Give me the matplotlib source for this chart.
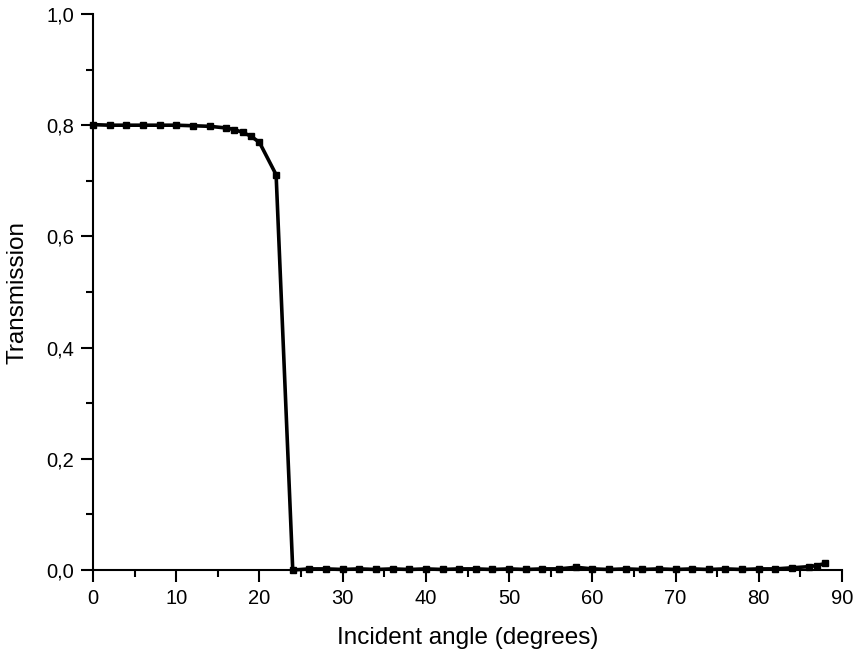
import matplotlib.pyplot as plt
from matplotlib.ticker import MultipleLocator, FuncFormatter

plt.rcParams['font.family'] = ['Liberation Sans', 'DejaVu Sans']

# transmission vs incident angle
angle = [0, 2, 4, 6, 8, 10, 12, 14, 16, 17, 18, 19, 20, 22, 24,
         26, 28, 30, 32, 34, 36, 38, 40, 42, 44, 46, 48, 50, 52, 54, 56,
         58, 60, 62, 64, 66, 68, 70, 72, 74, 76, 78, 80, 82, 84, 86, 87, 88]
trans = [0.801, 0.800, 0.800, 0.800, 0.800, 0.800, 0.799, 0.798, 0.795, 0.792, 0.787, 0.780, 0.769, 0.711, 0.0,
         0.002, 0.002, 0.001, 0.002, 0.001, 0.002, 0.001, 0.002, 0.001, 0.002, 0.002, 0.001, 0.002, 0.001, 0.002, 0.002,
         0.005, 0.002, 0.001, 0.002, 0.001, 0.002, 0.001, 0.002, 0.001, 0.002, 0.001, 0.002, 0.002, 0.004, 0.006, 0.008, 0.012]

fig = plt.figure(figsize=(8.55, 6.57), dpi=100)
ax = fig.add_axes([0.1088, 0.1324, 0.8760, 0.8463])

ax.plot(angle, trans, color='black', linewidth=2.6, marker='s', markersize=4.3,
        clip_on=False)

ax.set_xlim(0, 90)
ax.set_ylim(0, 1.0)
ax.xaxis.set_major_locator(MultipleLocator(10))
ax.xaxis.set_minor_locator(MultipleLocator(5))
ax.yaxis.set_major_locator(MultipleLocator(0.2))
ax.yaxis.set_minor_locator(MultipleLocator(0.1))
ax.yaxis.set_major_formatter(FuncFormatter(lambda v, p: '{:.1f}'.format(v).replace('.', ',')))

for side in ['top', 'right']:
    ax.spines[side].set_visible(False)
for side in ['left', 'bottom']:
    ax.spines[side].set_linewidth(1.5)

ax.tick_params(which='major', direction='out', length=8.5, width=1.5, labelsize=14.5, pad=5)
ax.tick_params(which='minor', direction='out', length=4.8, width=1.5)

ax.set_xlabel('Incident angle (degrees)', fontsize=17.5, labelpad=14)
ax.set_ylabel('Transmission', fontsize=17.5, labelpad=13)

fig.savefig('out.png', dpi=100)
